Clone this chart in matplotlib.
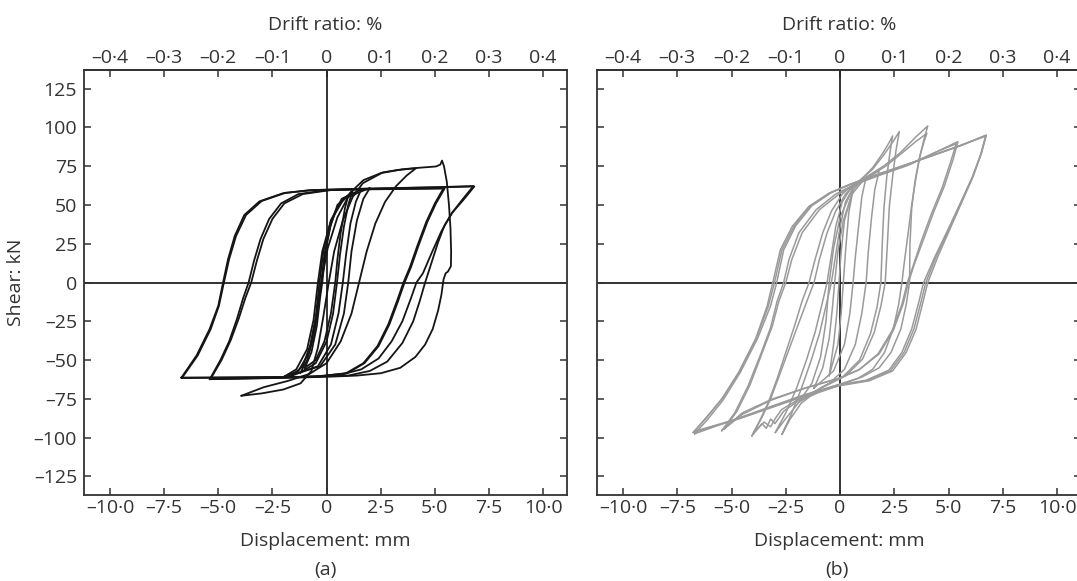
import matplotlib
matplotlib.use("Agg")
import matplotlib.pyplot as plt
from matplotlib.ticker import FixedLocator, FuncFormatter

plt.rcParams['font.family'] = ['Open Sans', 'DejaVu Sans']

# ---------------- data ----------------
disp_ticks = [-10.0, -7.5, -5.0, -2.5, 0.0, 2.5, 5.0, 7.5, 10.0]
drift_ticks = [-0.4, -0.3, -0.2, -0.1, 0.0, 0.1, 0.2, 0.3, 0.4]
shear_ticks = [-125, -100, -75, -50, -25, 0, 25, 50, 75, 100, 125]
height_mm = 2500.0  # drift ratio % = displacement / height * 100

# Panel (a): hysteresis loops, (displacement mm, shear kN)
a_s1 = [(-1.2, -58), (-0.9, -50), (-0.6, -35), (-0.4, -18), (-0.25, 0), (-0.1, 18), (0.15, 35), (0.5, 50), (1.2, 59),
        (1.0, 50), (0.8, 36), (0.62, 18), (0.48, 0), (0.3, -20), (0.0, -38), (-0.5, -52), (-1.2, -58)]
a_s2 = [(-1.6, -60), (-1.1, -54), (-0.75, -40), (-0.5, -22), (-0.33, 0), (-0.15, 20), (0.2, 40), (0.7, 54), (1.6, 60),
        (1.35, 52), (1.1, 38), (0.9, 18), (0.75, 0), (0.55, -20), (0.2, -40), (-0.4, -54), (-1.6, -60)]
a_s3 = [(-2.0, -61), (-1.4, -56), (-0.9, -43), (-0.6, -24), (-0.4, 0), (-0.2, 20), (0.2, 40), (0.8, 54), (2.0, 61),
        (1.7, 54), (1.4, 40), (1.15, 20), (1.0, 0), (0.8, -20), (0.4, -40), (-0.3, -54), (-2.0, -61)]
a_s4 = [(-1.0, -55), (-0.7, -45), (-0.45, -28), (-0.3, -10), (-0.2, 0), (-0.05, 20), (0.2, 38), (0.55, 50), (1.0, 56),
        (0.85, 48), (0.65, 32), (0.5, 15), (0.4, 0), (0.2, -20), (-0.1, -38), (-0.5, -50), (-1.0, -55)]
a_c3 = [(-2.0, -61), (-1.3, -57), (-0.8, -45), (-0.5, -25), (-0.25, 0), (0.05, 22), (0.5, 42), (1.1, 58), (1.7, 66),
        (2.5, 70.5), (3.3, 72.5), (4.13, 73.7), (3.7, 69), (3.2, 62), (2.7, 52), (2.25, 38), (1.85, 20), (1.5, 0),
        (1.15, -20), (0.65, -38), (0.0, -52), (-0.8, -59), (-1.8, -63.5), (-2.9, -67.5), (-3.93, -73)]
a_c4 = [(-3.93, -73), (-3.0, -71.5), (-2.0, -69), (-1.2, -65), (-0.7, -57), (-0.4, -42), (-0.15, -22), (0.1, 0),
        (0.35, 20), (0.75, 40), (1.2, 55), (1.67, 64), (2.6, 71), (3.5, 73), (4.3, 74), (5.05, 74.8), (5.25, 76),
        (5.33, 78.6), (5.42, 75), (5.55, 65), (5.65, 50), (5.72, 35), (5.75, 20), (5.74, 10.5), (5.6, 7), (5.5, 6),
        (5.4, 2), (5.3, -8), (5.15, -18), (4.9, -30), (4.55, -40), (4.1, -48), (3.4, -55), (2.5, -58.5),
        (1.4, -60), (0.0, -60.8), (-2.0, -61.5), (-4.0, -62), (-5.39, -62.3)]
a_c5 = [(-5.39, -62.3), (-4.9, -50), (-4.5, -38), (-4.15, -24), (-3.85, -10), (-3.6, 0), (-3.35, 14), (-3.05, 28),
        (-2.65, 41), (-2.1, 51), (-1.3, 57), (0.0, 59.5), (2.0, 60.2), (4.0, 60.5), (5.4, 60.8),
        (5.0, 51), (4.6, 39), (4.2, 24), (3.85, 10), (3.55, 0), (3.25, -12), (2.85, -27), (2.35, -41), (1.7, -52),
        (0.9, -58.5), (-0.5, -60.8), (-2.5, -61.5), (-5.39, -62.3)]
a_c5b = [(-5.35, -62.0), (-4.85, -50), (-4.42, -37), (-4.05, -23), (-3.75, -10), (-3.48, 0), (-3.22, 14),
         (-2.92, 28), (-2.5, 41), (-1.95, 51), (-1.1, 57), (0.2, 59.6), (2.2, 60.1), (4.2, 60.4), (5.45, 60.6),
         (5.05, 51), (4.65, 39), (4.25, 24), (3.9, 10), (3.6, 0), (3.3, -12), (2.9, -27), (2.4, -41), (1.75, -52),
         (0.95, -58.5), (-0.5, -60.6), (-2.5, -61.3), (-5.35, -62.0)]
a_c6 = [(-6.7, -61.3), (-6.0, -47), (-5.4, -30), (-5.0, -15), (-4.78, 0), (-4.55, 15), (-4.24, 30), (-3.8, 43.5),
        (-3.1, 52.3), (-2.0, 57.6), (-0.8, 59.5), (1.0, 60.2), (3.0, 60.8), (5.0, 61.3), (6.82, 61.9),
        (6.3, 53), (5.8, 45), (5.45, 37), (5.15, 26), (4.85, 13), (4.55, 0), (4.3, -12), (4.0, -25), (3.5, -39),
        (2.8, -51), (2.0, -57), (1.0, -60), (-1.0, -60.8), (-3.5, -61), (-6.7, -61.3)]
a_c6b = [(-6.68, -61.6), (-5.95, -47), (-5.35, -30), (-4.97, -15), (-4.74, 0), (-4.5, 15), (-4.18, 30),
         (-3.72, 43.5), (-3.0, 52.5), (-1.9, 57.8), (-0.6, 59.6), (1.2, 60.3), (3.2, 60.9), (5.2, 61.5),
         (6.78, 62.2), (6.3, 54), (5.8, 45), (5.3, 33), (4.85, 19), (4.45, 6), (4.15, 0), (3.9, -10), (3.5, -25),
         (3.0, -38), (2.4, -49), (1.6, -56), (0.5, -60), (-1.5, -61), (-4.0, -61.4), (-6.68, -61.6)]

# Panel (b): hysteresis loops, (displacement mm, shear kN)
b_r1a = [(-0.5, -60), (-0.3, -40), (-0.15, -20), (-0.05, 0), (0.05, 20), (0.2, 40), (0.6, 60),
         (0.4, 45), (0.25, 20), (0.15, 0), (0.05, -20), (-0.1, -40), (-0.5, -60)]
b_r1b = [(-1.2, -68), (-0.8, -55), (-0.5, -36), (-0.35, -16), (-0.25, 0), (-0.1, 20), (0.15, 40), (0.55, 57),
         (1.2, 68), (1.0, 55), (0.85, 36), (0.7, 16), (0.6, 0), (0.45, -20), (0.2, -40), (-0.3, -57), (-1.2, -68)]
b_r1c = [(-1.8, -75), (-1.3, -65), (-0.9, -48), (-0.65, -25), (-0.5, 0), (-0.3, 22), (0.0, 42), (0.5, 58),
         (1.0, 66), (1.8, 72), (1.6, 60), (1.45, 42), (1.3, 20), (1.2, 0), (1.0, -20), (0.7, -40), (0.2, -56),
         (-0.5, -65), (-1.8, -75)]
b_r2 = [(-2.98, -96.6), (-2.5, -84), (-2.0, -68), (-1.55, -50), (-1.15, -32), (-0.85, -15), (-0.6, 0),
        (-0.4, 18), (-0.2, 36), (0.1, 52), (0.5, 61), (1.0, 67), (1.5, 73), (2.0, 82), (2.4, 90), (2.73, 97.3),
        (2.58, 85.5), (2.42, 68.3), (2.27, 49.1), (2.19, 27.6), (2.08, 0), (1.88, -15.2), (1.57, -32.3),
        (1.03, -49.5), (0.26, -60.2), (-0.82, -67.7), (-1.9, -77.3), (-2.52, -88), (-2.98, -96.6)]
b_r2b = [(-2.67, -97.7), (-2.25, -85), (-1.8, -69), (-1.35, -51), (-0.95, -33), (-0.65, -15), (-0.4, 0),
         (-0.2, 18), (0.0, 36), (0.25, 52), (0.6, 61), (1.05, 67.5), (1.5, 74), (1.95, 83), (2.25, 90),
         (2.42, 94.5), (2.3, 84), (2.15, 68), (2.02, 48), (1.95, 27), (1.88, 0), (1.7, -16), (1.4, -33),
         (0.9, -50), (0.15, -60.5), (-0.9, -68), (-1.8, -78), (-2.3, -88), (-2.67, -97.7)]
b_r3 = [(-4.06, -98.8), (-3.7, -89), (-3.3, -77), (-2.9, -62), (-2.5, -45), (-2.1, -28), (-1.75, -12),
        (-1.43, 0), (-1.15, 15), (-0.8, 32), (-0.4, 46), (0.1, 57), (0.6, 63), (1.2, 68), (2.0, 75), (2.8, 84),
        (3.5, 94), (4.04, 100.9), (3.9, 94), (3.7, 83), (3.5, 68), (3.3, 50), (3.1, 28), (2.95, 12), (2.85, 0),
        (2.7, -14), (2.45, -30), (2.05, -45), (1.5, -56), (0.8, -62), (0.0, -66), (-1.0, -71), (-2.0, -77),
        (-2.6, -83), (-2.8, -87), (-3.0, -91), (-3.2, -88), (-3.4, -94), (-3.6, -91), (-4.06, -98.8)]
b_r3b = [(-3.98, -96.6), (-3.6, -87), (-3.2, -75), (-2.8, -60), (-2.35, -43), (-1.9, -26), (-1.5, -11),
         (-1.2, 0), (-0.95, 15), (-0.6, 32), (-0.2, 46), (0.25, 57), (0.75, 63.5), (1.35, 68.5), (2.1, 75),
         (2.9, 84), (3.5, 91), (4.0, 96.2), (3.85, 90), (3.65, 80), (3.45, 65), (3.3, 48), (3.22, 25),
         (3.2, 0), (3.05, -14), (2.8, -30), (2.35, -45), (1.8, -55), (1.0, -61), (0.1, -65), (-1.0, -70),
         (-2.0, -76), (-2.7, -82), (-3.0, -88), (-3.2, -93), (-3.5, -90), (-3.98, -96.6)]
b_r4 = [(-5.45, -95.5), (-4.85, -84), (-4.25, -67), (-3.65, -46), (-3.2, -29), (-2.9, -12), (-2.6, 0),
        (-2.35, 15), (-1.9, 32), (-1.1, 47), (-0.2, 57), (0.7, 63.5), (1.6, 68.5), (3.0, 75), (4.4, 84),
        (5.43, 90.8), (5.2, 79), (4.8, 62), (4.3, 45), (3.85, 28), (3.4, 11), (3.15, 0), (2.9, -14), (2.45, -31),
        (1.8, -46), (0.9, -56), (0.0, -61.5), (-1.6, -68), (-3.1, -75), (-4.5, -84), (-5.45, -95.5)]
b_r4b = [(-5.35, -94.5), (-4.75, -83), (-4.15, -66), (-3.58, -45), (-3.12, -28), (-2.82, -12), (-2.5, 0),
         (-2.22, 15), (-1.75, 32), (-0.95, 47), (0.0, 57.5), (0.85, 64), (1.8, 69), (3.2, 76), (4.5, 84.5),
         (5.35, 89.5), (5.1, 78), (4.7, 61), (4.2, 44), (3.75, 27), (3.35, 10), (3.1, 0), (2.85, -14), (2.4, -31),
         (1.75, -46), (0.85, -56.5), (-0.1, -62), (-1.7, -68.5), (-3.2, -76), (-4.5, -85), (-5.35, -94.5)]
b_r5 = [(-6.76, -96.6), (-6.22, -88), (-5.45, -75.2), (-4.68, -58.1), (-3.9, -36.6), (-3.36, -15.2), (-3.1, 0),
        (-2.75, 21.2), (-2.2, 36.2), (-1.44, 49), (-0.51, 57.6), (0.42, 63), (1.34, 67.9), (2.58, 73.7),
        (4.12, 81.2), (5.51, 88), (6.74, 95.1), (6.51, 83.3), (6.13, 68.3), (5.59, 51.2), (5.05, 34.1),
        (4.51, 16.9), (4.04, 0), (3.81, -13.1), (3.5, -30.2), (3.04, -45.2), (2.42, -57), (1.34, -63.4),
        (-0.05, -66.6), (-1.59, -73), (-3.13, -80.5), (-4.68, -88), (-6.76, -96.6)]
b_r5b = [(-6.7, -97.5), (-6.15, -89), (-5.4, -76), (-4.6, -58), (-3.8, -36), (-3.2, -15), (-2.92, 0),
         (-2.6, 21), (-2.05, 36.5), (-1.3, 49.5), (-0.4, 58), (0.5, 63.5), (1.45, 68.3), (2.7, 74.2),
         (4.2, 81.6), (5.55, 88.4), (6.7, 94.3), (6.48, 82.5), (6.08, 67.5), (5.52, 50.5), (4.95, 33.5),
         (4.35, 16), (3.85, 0), (3.62, -13), (3.3, -30), (2.85, -45), (2.25, -56.5), (1.2, -63),
         (-0.15, -66.2), (-1.7, -72.6), (-3.2, -80), (-4.75, -87.8), (-6.7, -97.5)]
b_r5c = [(-6.72, -96.0), (-6.18, -87.5), (-5.42, -74.5), (-4.64, -57.5), (-3.86, -36), (-3.3, -15),
         (-3.02, 0), (-2.68, 21), (-2.12, 36.3), (-1.38, 49.2), (-0.45, 57.8), (0.46, 63.2), (1.4, 68.1),
         (2.64, 74), (4.16, 81.4), (5.53, 88.2), (6.72, 94.7), (6.5, 83), (6.1, 68), (5.55, 51), (5.0, 34),
         (4.42, 16.5), (3.95, 0), (3.72, -13), (3.4, -30), (2.95, -45), (2.33, -56.8), (1.27, -63.2),
         (-0.1, -66.4), (-1.65, -72.8), (-3.16, -80.2), (-4.72, -87.9), (-6.72, -96.0)]

loops_a = [a_s4, a_s1, a_s2, a_s3, a_c3, a_c4, a_c5, a_c5b, a_c6, a_c6b]
loops_b = [b_r1a, b_r1b, b_r1c, b_r2, b_r2b, b_r3, b_r3b, b_r4, b_r4b, b_r5, b_r5b, b_r5c]

# ---------------- figure ----------------
W, H = 1077, 581
fig = plt.figure(figsize=(W / 100, H / 100), dpi=100)

TXT = '#333333'
SPINE = '#333333'
FS = 14


def fmt_val(v, dec):
    if abs(v) < 1e-9:
        return '0'
    s = f"{abs(v):.{dec}f}".replace('.', '\u00b7')
    return ('\u2013' + s) if v < 0 else s


def setup(ax, show_ylabels):
    ax.set_xlim(-11.2, 11.1)
    ax.set_ylim(-137, 137)
    ax.xaxis.set_major_locator(FixedLocator(disp_ticks))
    ax.yaxis.set_major_locator(FixedLocator(shear_ticks))
    ax.xaxis.set_major_formatter(FuncFormatter(lambda v, p: fmt_val(v, 1)))
    ax.yaxis.set_major_formatter(FuncFormatter(lambda v, p: fmt_val(v, 0)))
    ax.tick_params(axis='both', direction='in', length=5, width=1.1, color=SPINE,
                   labelsize=FS, labelcolor=TXT, pad=5)
    ax.tick_params(axis='x', pad=3)
    ax.tick_params(axis='y', left=True, right=True, labelleft=show_ylabels, labelright=False)
    ax.tick_params(axis='x', top=False, bottom=True)
    for sp in ax.spines.values():
        sp.set_linewidth(1.3)
        sp.set_color(SPINE)
    ax.axhline(0, color='#222222', lw=1.3, zorder=1)
    ax.axvline(0, color='#222222', lw=1.3, zorder=1)
    ax.set_xlabel('Displacement: mm', fontsize=FS, color=TXT, labelpad=11)
    sec = ax.secondary_xaxis('top', functions=(lambda d: d / height_mm * 100.0,
                                               lambda r: r * height_mm / 100.0))
    sec.xaxis.set_major_locator(FixedLocator(drift_ticks))
    sec.xaxis.set_major_formatter(FuncFormatter(lambda v, p: fmt_val(v, 1)))
    sec.tick_params(direction='in', length=5, width=1.1, color=SPINE, labelsize=FS,
                    labelcolor=TXT, pad=2)
    sec.spines['top'].set_linewidth(1.3)
    sec.spines['top'].set_color(SPINE)
    sec.set_xlabel('Drift ratio: %', fontsize=FS, color=TXT, labelpad=14)
    return sec


ax_a = fig.add_axes([84 / W, 1 - 495 / H, 483 / W, 425 / H])
ax_b = fig.add_axes([597 / W, 1 - 495 / H, 484 / W, 425 / H])
setup(ax_a, True)
setup(ax_b, False)
ax_a.set_ylabel('Shear: kN', fontsize=FS, color=TXT, labelpad=6)

for loop in loops_a:
    xs = [p[0] for p in loop]
    ys = [p[1] for p in loop]
    ax_a.plot(xs, ys, color='#151515', lw=1.3, solid_joinstyle='round', zorder=3)

for loop in loops_b:
    xs = [p[0] for p in loop]
    ys = [p[1] for p in loop]
    ax_b.plot(xs, ys, color='#9a9a9a', lw=1.1, solid_joinstyle='round', zorder=3)

fig.text((84 + 483 / 2) / W, 1 - 570 / H, '(a)', ha='center', va='center', fontsize=FS, color=TXT)
fig.text((597 + 484 / 2 - 2) / W, 1 - 570 / H, '(b)', ha='center', va='center', fontsize=FS, color=TXT)

fig.savefig('out.png', dpi=100)
